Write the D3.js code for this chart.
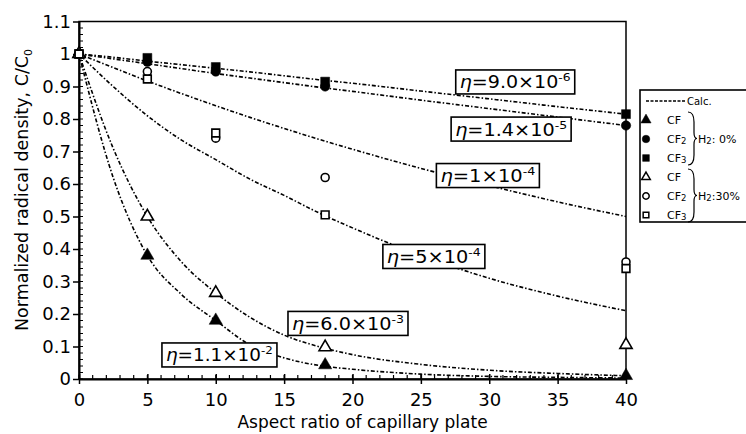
<!DOCTYPE html>
<html>
<head>
<meta charset="utf-8">
<script src="https://cdn.jsdelivr.net/npm/d3@7"></script>
<style>
  body { margin: 0; background: #fff; overflow: hidden; }
  svg { font-family: "DejaVu Sans", sans-serif; }
</style>
</head>
<body>
<svg id="chart" width="746" height="434"></svg>
<script>
// measured points (x = aspect ratio)
const aspectRatio = [0, 5, 10, 18, 40];
const cfH0   = [1.00, 0.38, 0.18, 0.043, 0.01];
const cf2H0  = [1.00, 0.976, 0.946, 0.90, 0.78];
const cf3H0  = [1.00, 0.988, 0.96, 0.915, 0.815];
const cfH30  = [1.00, 0.50, 0.265, 0.098, 0.105];
const cf2H30 = [1.00, 0.946, 0.741, 0.62, 0.36];
const cf3H30 = [1.00, 0.923, 0.757, 0.505, 0.34];

// calculated curves
const calcX   = [0, 2.5, 5, 7.5, 10, 12.5, 15, 17.5, 20, 25, 30, 35, 40];
const eta9e6  = [1, 0.99, 0.978, 0.967, 0.956, 0.945, 0.933, 0.921, 0.91, 0.886, 0.862, 0.838, 0.815];
const eta14e6 = [1, 0.985, 0.97, 0.955, 0.94, 0.926, 0.912, 0.898, 0.885, 0.858, 0.832, 0.806, 0.78];
const eta1e4  = [1, 0.958, 0.917, 0.878, 0.841, 0.805, 0.771, 0.738, 0.707, 0.648, 0.595, 0.545, 0.50];
const eta5e4  = [1, 0.90, 0.81, 0.735, 0.675, 0.615, 0.565, 0.512, 0.465, 0.38, 0.31, 0.255, 0.21];
const eta6e3  = [1, 0.71, 0.50, 0.36, 0.265, 0.19, 0.135, 0.10, 0.075, 0.045, 0.027, 0.017, 0.01];
const eta11e2 = [1, 0.62, 0.38, 0.26, 0.18, 0.105, 0.065, 0.042, 0.03, 0.015, 0.008, 0.005, 0.003];

const curveNames = ["9.0", "1.4", "1", "5", "6.0", "1.1"];
const curveExps  = ["-6", "-5", "-4", "-4", "-3", "-2"];

const xTicks = [0, 5, 10, 15, 20, 25, 30, 35, 40];
const yTicks = [0, 0.1, 0.2, 0.3, 0.4, 0.5, 0.6, 0.7, 0.8, 0.9, 1, 1.1];

// label box placement (data coords of centre, box width in px)
const labelLayout = [
  { x: 31.9, y: 0.914, w: 119 },
  { x: 31.6, y: 0.769, w: 120 },
  { x: 29.9, y: 0.626, w: 103 },
  { x: 25.95, y: 0.377, w: 102 },
  { x: 19.67, y: 0.171, w: 120 },
  { x: 10.27, y: 0.074, w: 115 }
];

const svg = d3.select("#chart");
const plotL = 79, plotR = 626, plotT = 21.5, plotB = 379;

const x = d3.scaleLinear().domain([0, 40]).range([plotL, plotR]);
const y = d3.scaleLinear().domain([0, 1.1]).range([plotB, plotT]);

// frame
svg.append("rect")
  .attr("x", plotL).attr("y", plotT)
  .attr("width", plotR - plotL).attr("height", plotB - plotT)
  .attr("fill", "none").attr("stroke", "#000").attr("stroke-width", 1.5);

// minor ticks
svg.append("g").selectAll("line")
  .data(d3.range(0, 41, 1))
  .enter().append("line")
  .attr("x1", d => x(d)).attr("x2", d => x(d))
  .attr("y1", plotB).attr("y2", plotB - 4)
  .attr("stroke", "#000").attr("stroke-width", 1.2);

svg.append("g").selectAll("line")
  .data(d3.range(0, 1.1, 0.02))
  .enter().append("line")
  .attr("x1", plotL).attr("x2", plotL + 4)
  .attr("y1", d => y(d)).attr("y2", d => y(d))
  .attr("stroke", "#000").attr("stroke-width", 1);

// axes
const xAxis = svg.append("g")
  .attr("transform", `translate(0,${plotB})`)
  .call(d3.axisBottom(x).tickValues(xTicks).tickSizeInner(5).tickSizeOuter(0).tickPadding(9));
xAxis.select(".domain").attr("stroke-width", 2);
xAxis.selectAll(".tick line").attr("y1", -5).attr("stroke-width", 1.5);
xAxis.selectAll("text").style("font-size", "18px").style("font-family", "DejaVu Sans").attr("fill", "#000");

const yAxis = svg.append("g")
  .attr("transform", `translate(${plotL},0)`)
  .call(d3.axisLeft(y).tickValues(yTicks).tickSizeInner(6).tickSizeOuter(0).tickPadding(2)
    .tickFormat(d => String(+d.toFixed(1))));
yAxis.select(".domain").attr("stroke-width", 2);
yAxis.selectAll(".tick line").attr("stroke-width", 1.5);
yAxis.selectAll("text").style("font-size", "18px").style("font-family", "DejaVu Sans").attr("fill", "#000");

// axis titles
svg.append("text")
  .attr("x", (plotL + plotR) / 2 + 10).attr("y", 428)
  .attr("text-anchor", "middle")
  .style("font-size", "17px")
  .text("Aspect ratio of capillary plate");

const yt = svg.append("text")
  .attr("transform", "translate(28,190) rotate(-90)")
  .attr("text-anchor", "middle")
  .style("font-size", "17.5px");
yt.append("tspan").text("Normalized radical density, C/C");
yt.append("tspan").attr("dy", 4).style("font-size", "11px").text("0");

// calculated curves
const line = d3.line()
  .x(d => x(d[0])).y(d => y(d[1]))
  .curve(d3.curveMonotoneX);

const curves = [eta9e6, eta14e6, eta1e4, eta5e4, eta6e3, eta11e2];
svg.append("g").selectAll("path")
  .data(curves)
  .enter().append("path")
  .attr("d", vals => line(calcX.map((cx, i) => [cx, vals[i]])))
  .attr("fill", "none")
  .attr("stroke", "#000")
  .attr("stroke-width", 1.6)
  .attr("stroke-dasharray", "4,2,1.5,2");

// label boxes
const boxH = 24;
labelLayout.forEach((lb, i) => {
  const cx = x(lb.x), cy = y(lb.y);
  svg.append("rect")
    .attr("x", cx - lb.w / 2).attr("y", cy - boxH / 2)
    .attr("width", lb.w).attr("height", boxH)
    .attr("fill", "#fff").attr("stroke", "#000").attr("stroke-width", 1.6);
  const g = svg.append("g");
  const t = g.append("text").style("font-size", "17px").attr("y", 0);
  t.append("tspan").style("font-style", "italic").text("\u03B7");
  t.append("tspan").text("=" + curveNames[i] + "\u00D710");
  t.append("tspan").attr("dy", -7).style("font-size", "11px").text(curveExps[i]);
  const bb = t.node().getBBox();
  const sx = (lb.w - 8) / bb.width;
  g.attr("transform", `translate(${cx - lb.w / 2 + 4},${cy + 6.5}) scale(${sx},1)`);
});

// markers
const series = [
  { vals: cfH0, type: d3.symbolTriangle, filled: true, size: 75 },
  { vals: cf2H0, type: d3.symbolCircle, filled: true, size: 70 },
  { vals: cf3H0, type: d3.symbolSquare, filled: true, size: 80 },
  { vals: cfH30, type: d3.symbolTriangle, filled: false, size: 65 },
  { vals: cf2H30, type: d3.symbolCircle, filled: false, size: 50 },
  { vals: cf3H30, type: d3.symbolSquare, filled: false, size: 60 }
];

series.forEach(s => {
  svg.append("g").selectAll("path")
    .data(aspectRatio.map((a, i) => [a, s.vals[i]]))
    .enter().append("path")
    .attr("transform", d => `translate(${x(d[0])},${y(d[1])})`)
    .attr("d", d3.symbol().type(s.type).size(s.size))
    .attr("fill", s.filled ? "#000" : "#fff")
    .attr("stroke", "#000")
    .attr("stroke-width", s.filled ? 0.5 : 1.6);
});

// legend (box runs past the right edge as in the original)
const lg = svg.append("g");
lg.append("rect")
  .attr("x", 640).attr("y", 90).attr("width", 120).attr("height", 132)
  .attr("fill", "#fff").attr("stroke", "#000").attr("stroke-width", 1.6);

lg.append("line")
  .attr("x1", 646).attr("x2", 685).attr("y1", 101).attr("y2", 101)
  .attr("stroke", "#000").attr("stroke-width", 1.3).attr("stroke-dasharray", "3,1.5");
lg.append("text").attr("x", 687).attr("y", 105).style("font-size", "10px").text("Calc.");

const legendRows = [
  { type: d3.symbolTriangle, filled: true, name: "CF", sub: "" },
  { type: d3.symbolCircle, filled: true, name: "CF", sub: "2" },
  { type: d3.symbolSquare, filled: true, name: "CF", sub: "3" },
  { type: d3.symbolTriangle, filled: false, name: "CF", sub: "" },
  { type: d3.symbolCircle, filled: false, name: "CF", sub: "2" },
  { type: d3.symbolSquare, filled: false, name: "CF", sub: "3" }
];

legendRows.forEach((r, i) => {
  const ry = 120 + i * 19;
  lg.append("path")
    .attr("transform", `translate(646,${ry})`)
    .attr("d", d3.symbol().type(r.type).size(r.filled ? 45 : 32))
    .attr("fill", r.filled ? "#000" : "#fff")
    .attr("stroke", "#000").attr("stroke-width", r.filled ? 0.5 : 1.5);
  const t = lg.append("text").attr("x", 667).attr("y", ry + 4).style("font-size", "11px");
  t.append("tspan").text(r.name);
  if (r.sub) t.append("tspan").style("font-size", "8.5px").attr("dy", 1).text(r.sub);
});

function brace(y0, y1) {
  const ym = (y0 + y1) / 2;
  return `M688,${y0} Q694,${y0} 694,${y0 + 10} L694,${ym - 6} Q694,${ym} 697,${ym}` +
         ` Q694,${ym} 694,${ym + 6} L694,${y1 - 10} Q694,${y1} 688,${y1}`;
}
[[112, 165], [169, 222]].forEach(([y0, y1], i) => {
  lg.append("path").attr("d", brace(y0, y1))
    .attr("fill", "none").attr("stroke", "#000").attr("stroke-width", 1.2);
  const t = lg.append("text").attr("x", 698).attr("y", (y0 + y1) / 2 + 4).style("font-size", "11px");
  t.append("tspan").text("H");
  t.append("tspan").style("font-size", "8.5px").attr("dy", 1).text("2");
  t.append("tspan").attr("dy", -1).text(i === 0 ? ": 0%" : ":30%");
});
</script>
</body>
</html>
